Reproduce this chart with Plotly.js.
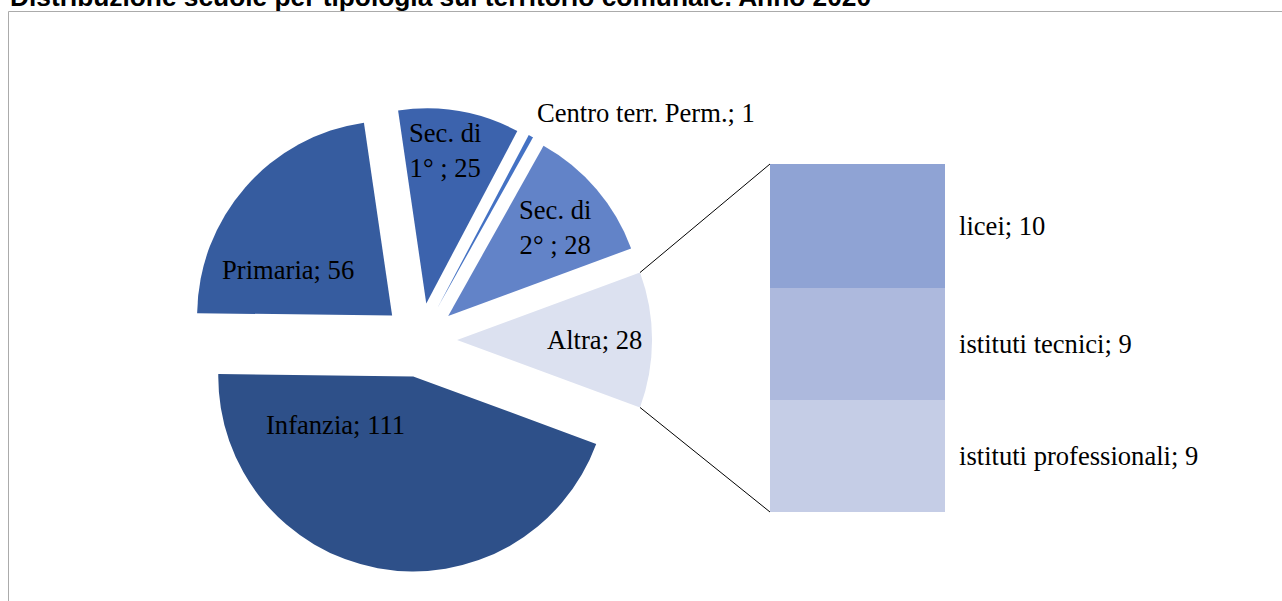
<!DOCTYPE html>
<html>
<head>
<meta charset="utf-8">
<script src="https://cdn.plot.ly/plotly-3.0.1.min.js"></script>
<style>
  html, body { margin: 0; padding: 0; background: #ffffff; }
  #gd { width: 1282px; height: 601px; }
</style>
</head>
<body>
<div id="gd"></div>
<script>
"use strict";

/* data */
var pieLabels = ["Altra", "Sec. di 2° ", "Centro terr. Perm.", "Sec. di 1° ", "Primaria", "Infanzia"];
var pieValues = [28, 28, 1, 25, 56, 111];
var barLabels = ["licei", "istituti tecnici", "istituti professionali"];
var barValues = [10, 9, 9];

var titleText = "Distribuzione scuole per tipologia sul territorio comunale. Anno 2020";

/* styles */
var pieColors = ["#DCE1F0", "#6283C8", "#4472C4", "#3C63AD", "#365C9F", "#2E5089"];
var barColors = ["#8FA3D4", "#ADB9DD", "#C5CDE6"];
var serif = "'Liberation Serif', 'Times New Roman', serif";
var labelSize = 26.6;

/* where each pie label sits: [angle clockwise from 12 o'clock, fraction of radius] */
var labelPolar = [[90, 0.897], [50.3, 0.90], [44.9, 1.645], [7.5, 0.98], [-62, 0.766], [225, 0.616]];

/* geometry (px) */
var W = 1282, H = 601;
var pieCx = 420, pieCy = 340, pieR = 195, pull = 0.19;
var barLeft = 770, barRight = 945, barTop = 164, barBottom = 512;

function px(x) { return x / W; }
function py(y) { return 1 - y / H; }

function main()
{
	var gd = document.getElementById("gd");

	var total = pieValues.reduce(function (a, b) { return a + b; }, 0);
	var altraHalf = pieValues[0] / total * 180;	// half angle of the split slice
	var half = pieR * (1 + pull);

	var pieTrace = {
		type: 'pie',
		labels: pieLabels,
		values: pieValues,
		textinfo: 'none',
		sort: false,
		direction: 'counterclockwise',
		rotation: 90 - altraHalf,
		pull: pieValues.map(function () { return pull; }),
		marker: {colors: pieColors, line: {width: 0}},
		domain: {x: [px(pieCx - half), px(pieCx + half)], y: [py(pieCy + half), py(pieCy - half)]},
		hoverinfo: 'none',
		showlegend: false
	};

	/* stacked column, drawn bottom to top */
	var data = [pieTrace];
	for (var i = barValues.length - 1; i >= 0; i--) {
		data.push({
			type: 'bar',
			x: [0],
			y: [barValues[i]],
			width: 1,
			name: barLabels[i],
			marker: {color: barColors[i], line: {width: 0}},
			hoverinfo: 'none',
			showlegend: false
		});
	}

	var barTotal = barValues.reduce(function (a, b) { return a + b; }, 0);

	var annotations = [{
		text: '<b>' + titleText + '</b>',
		xref: 'paper', yref: 'paper',
		x: px(8), y: py(-3),
		xanchor: 'left', yanchor: 'middle',
		showarrow: false,
		font: {family: "'Liberation Sans', Arial, sans-serif", size: 26.3, color: '#000000'}
	}];

	/* pie data labels */
	for (var k = 0; k < pieLabels.length; k++) {
		var ang = labelPolar[k][0] * Math.PI / 180;
		var rr = labelPolar[k][1] * pieR;
		annotations.push({
			text: pieLabels[k].replace("di ", "di<br>") + '; ' + pieValues[k],
			xref: 'paper', yref: 'paper',
			x: px(pieCx + rr * Math.sin(ang)), y: py(pieCy - rr * Math.cos(ang)),
			xanchor: 'center', yanchor: 'middle',
			align: 'center',
			showarrow: false,
			font: {family: serif, size: labelSize, color: '#000000'}
		});
	}

	/* labels to the right of the column */
	var top = barTotal;
	for (var j = 0; j < barValues.length; j++) {
		annotations.push({
			text: barLabels[j] + '; ' + barValues[j],
			xref: 'x', yref: 'y',
			x: 0.5, y: top - barValues[j] / 2,
			xanchor: 'left', yanchor: 'middle',
			xshift: 12,
			showarrow: false,
			font: {family: serif, size: labelSize, color: '#000000'}
		});
		top -= barValues[j];
	}

	/* connector lines from the split slice to the column */
	var a = altraHalf * Math.PI / 180;
	var apexX = pieCx + pull * pieR;
	var cornerX = apexX + pieR * Math.cos(a);
	var shapes = [
		{type: 'line', xref: 'paper', yref: 'paper',
		 x0: px(cornerX), y0: py(pieCy - pieR * Math.sin(a)), x1: px(barLeft), y1: py(barTop),
		 line: {color: '#000000', width: 1}},
		{type: 'line', xref: 'paper', yref: 'paper',
		 x0: px(cornerX), y0: py(pieCy + pieR * Math.sin(a)), x1: px(barLeft), y1: py(barBottom),
		 line: {color: '#000000', width: 1}},
		{type: 'rect', xref: 'paper', yref: 'paper',
		 x0: px(8.5), y0: py(H + 10), x1: px(W + 10), y1: py(11.5),
		 line: {color: '#ABABAB', width: 1}, layer: 'below'}
	];

	var layout = {
		width: W,
		height: H,
		margin: {l: 0, r: 0, t: 0, b: 0, pad: 0},
		paper_bgcolor: '#ffffff',
		plot_bgcolor: 'rgba(0,0,0,0)',
		showlegend: false,
		barmode: 'stack',
		bargap: 0,
		xaxis: {
			domain: [px(barLeft), px(barRight)],
			range: [-0.5, 0.5],
			visible: false,
			fixedrange: true
		},
		yaxis: {
			domain: [py(barBottom), py(barTop)],
			range: [0, barTotal],
			visible: false,
			fixedrange: true
		},
		annotations: annotations,
		shapes: shapes
	};

	Plotly.newPlot(gd, data, layout, {staticPlot: true, displayModeBar: false});
}

main();
</script>
</body>
</html>
